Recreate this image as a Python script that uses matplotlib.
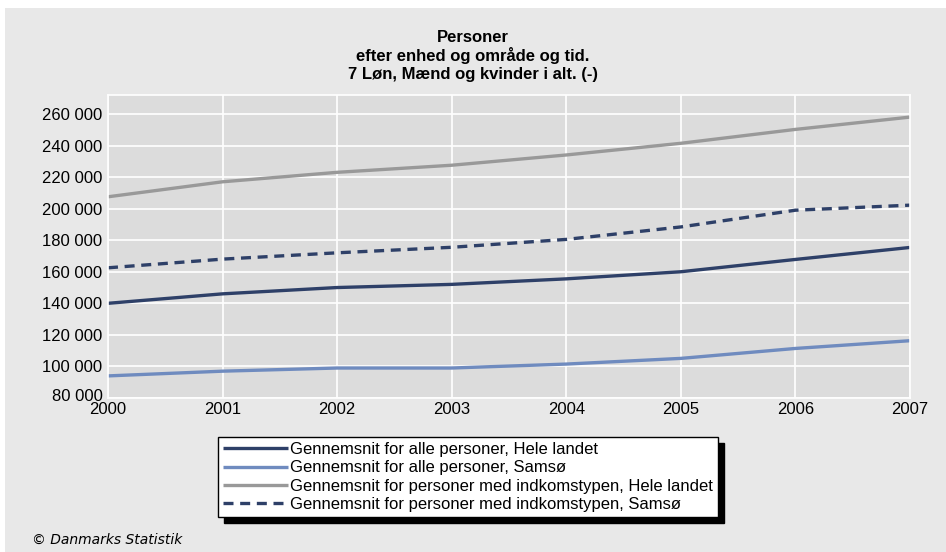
import matplotlib
matplotlib.use("Agg")
import matplotlib.pyplot as plt
from matplotlib.patches import Rectangle
from matplotlib.ticker import FuncFormatter, MultipleLocator
import matplotlib.transforms as mtransforms

years = [2000, 2001, 2002, 2003, 2004, 2005, 2006, 2007]
alle_hele = [140000, 146000, 150000, 152000, 155500, 160000, 167800, 175400]
alle_samsoe = [94000, 97000, 99000, 99000, 101500, 105100, 111400, 116300]
indk_hele = [207500, 217000, 223000, 227500, 234000, 241400, 250200, 258000]
indk_samsoe = [162500, 168000, 172000, 175500, 180500, 188400, 199000, 202200]

labels = [
    "Gennemsnit for alle personer, Hele landet",
    "Gennemsnit for alle personer, Samsø",
    "Gennemsnit for personer med indkomstypen, Hele landet",
    "Gennemsnit for personer med indkomstypen, Samsø",
]
title_lines = ["Personer", "efter enhed og område og tid.", "7 Løn, Mænd og kvinder i alt. (-)"]

plt.rcParams['font.family'] = ['Liberation Sans', 'DejaVu Sans']

fig = plt.figure(figsize=(9.46, 5.52), dpi=100, facecolor='white')
fig.patches.append(Rectangle((5/946, 0), 1, 1 - 8/552, transform=fig.transFigure,
                             facecolor='#e8e8e8', edgecolor='none', zorder=-10))

ax = fig.add_axes([108/946, 1 - 398/552, (910 - 108)/946, (398 - 95)/552])
ax.set_facecolor('#dcdcdc')

navy = '#2e4068'
light = '#6f8bbf'
gray = '#999999'

ax.plot(years, alle_hele, color=navy, lw=2.4, label=labels[0], solid_capstyle='butt')
ax.plot(years, alle_samsoe, color=light, lw=2.4, label=labels[1], solid_capstyle='butt')
ax.plot(years, indk_hele, color=gray, lw=2.4, label=labels[2], solid_capstyle='butt')
ax.plot(years, indk_samsoe, color=navy, lw=2.4, ls=(0, (3, 2)), label=labels[3])

ax.set_xlim(2000, 2007)
ax.set_ylim(80000, 272000)
ax.set_xticks(years)
ax.yaxis.set_major_locator(MultipleLocator(20000))
ax.yaxis.set_major_formatter(FuncFormatter(lambda v, p: f"{int(v):,}".replace(",", " ")))
ax.grid(True, color='white', lw=1.2)
ax.set_axisbelow(True)
for s in ax.spines.values():
    s.set_color('white')
    s.set_linewidth(1.2)
ax.tick_params(length=0, labelsize=12, colors='black', pad=4)
ax.tick_params(axis='x', pad=3)

fig.canvas.draw()
# nudge the lowest y label up a little so it just touches the first x label, as in the reference
for lab in ax.get_yticklabels():
    if lab.get_text().startswith("80"):
        lab.set_transform(lab.get_transform() + mtransforms.ScaledTranslation(0, 3/100, fig.dpi_scale_trans))

ty = [37, 56, 75]
for t, y in zip(title_lines, ty):
    fig.text(0.5, 1 - y/552, t, ha='center', va='center', fontsize=12,
             fontweight='bold')

leg = fig.legend(loc='upper left', bbox_to_anchor=(218/946, 1 - 437/552),
                 bbox_transform=fig.transFigure, fontsize=12, frameon=True,
                 fancybox=False, handlelength=3.9, handletextpad=0.15,
                 borderpad=0.3, labelspacing=0.2, borderaxespad=0,
                 shadow={'color': 'black', 'alpha': 1.0, 'ox': 4, 'oy': -4})
leg.get_frame().set_edgecolor('black')
leg.get_frame().set_linewidth(1.0)
leg.get_frame().set_facecolor('white')

fig.text(32/946, 1 - 540/552, "© Danmarks Statistik", fontsize=10, style='italic',
         ha='left', va='center', family=['DejaVu Sans'])

fig.savefig("out.png", dpi=100, facecolor=fig.get_facecolor())
